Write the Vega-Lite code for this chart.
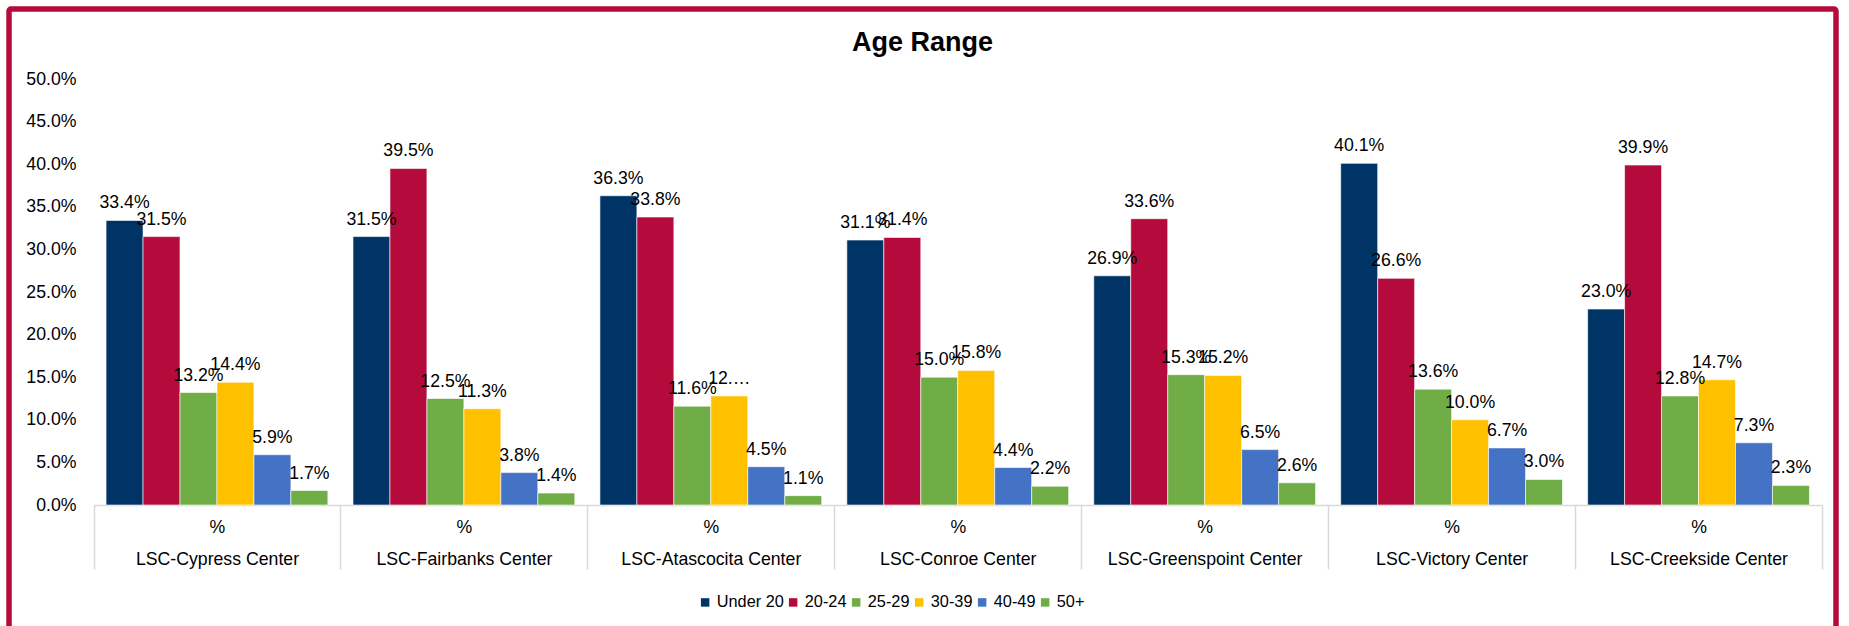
{
  "$schema": "https://vega.github.io/schema/vega-lite/v6.json",
  "autosize": {"type": "none"},
  "width": 1827,
  "height": 622,
  "padding": {"left": 9, "top": 9, "right": 13, "bottom": -5},
  "background": "white",
  "config": {
    "font": "Liberation Sans",
    "view": {"stroke": "#B40A3C", "strokeWidth": 5.5, "cornerRadius": 2, "fill": "white"}
  },
  "title": {
    "text": "Age Range",
    "font": "Liberation Sans",
    "fontSize": 27,
    "fontWeight": "bold",
    "color": "#000000",
    "anchor": "middle",
    "frame": "group",
    "baseline": "middle",
    "offset": -61
  },
  "data": {
    "values": [
      {"center": "LSC-Cypress Center", "age": "Under 20", "pct": 0.334, "label": "33.4%"},
      {"center": "LSC-Cypress Center", "age": "20-24", "pct": 0.315, "label": "31.5%"},
      {"center": "LSC-Cypress Center", "age": "25-29", "pct": 0.132, "label": "13.2%"},
      {"center": "LSC-Cypress Center", "age": "30-39", "pct": 0.144, "label": "14.4%"},
      {"center": "LSC-Cypress Center", "age": "40-49", "pct": 0.059, "label": "5.9%"},
      {"center": "LSC-Cypress Center", "age": "50+", "pct": 0.017, "label": "1.7%"},
      {"center": "LSC-Fairbanks Center", "age": "Under 20", "pct": 0.315, "label": "31.5%"},
      {"center": "LSC-Fairbanks Center", "age": "20-24", "pct": 0.395, "label": "39.5%"},
      {"center": "LSC-Fairbanks Center", "age": "25-29", "pct": 0.125, "label": "12.5%"},
      {"center": "LSC-Fairbanks Center", "age": "30-39", "pct": 0.113, "label": "11.3%"},
      {"center": "LSC-Fairbanks Center", "age": "40-49", "pct": 0.038, "label": "3.8%"},
      {"center": "LSC-Fairbanks Center", "age": "50+", "pct": 0.014, "label": "1.4%"},
      {"center": "LSC-Atascocita Center", "age": "Under 20", "pct": 0.363, "label": "36.3%"},
      {"center": "LSC-Atascocita Center", "age": "20-24", "pct": 0.338, "label": "33.8%"},
      {"center": "LSC-Atascocita Center", "age": "25-29", "pct": 0.116, "label": "11.6%"},
      {"center": "LSC-Atascocita Center", "age": "30-39", "pct": 0.128, "label": "12.…"},
      {"center": "LSC-Atascocita Center", "age": "40-49", "pct": 0.045, "label": "4.5%"},
      {"center": "LSC-Atascocita Center", "age": "50+", "pct": 0.011, "label": "1.1%"},
      {"center": "LSC-Conroe Center", "age": "Under 20", "pct": 0.311, "label": "31.1%"},
      {"center": "LSC-Conroe Center", "age": "20-24", "pct": 0.314, "label": "31.4%"},
      {"center": "LSC-Conroe Center", "age": "25-29", "pct": 0.150, "label": "15.0%"},
      {"center": "LSC-Conroe Center", "age": "30-39", "pct": 0.158, "label": "15.8%"},
      {"center": "LSC-Conroe Center", "age": "40-49", "pct": 0.044, "label": "4.4%"},
      {"center": "LSC-Conroe Center", "age": "50+", "pct": 0.022, "label": "2.2%"},
      {"center": "LSC-Greenspoint Center", "age": "Under 20", "pct": 0.269, "label": "26.9%"},
      {"center": "LSC-Greenspoint Center", "age": "20-24", "pct": 0.336, "label": "33.6%"},
      {"center": "LSC-Greenspoint Center", "age": "25-29", "pct": 0.153, "label": "15.3%"},
      {"center": "LSC-Greenspoint Center", "age": "30-39", "pct": 0.152, "label": "15.2%"},
      {"center": "LSC-Greenspoint Center", "age": "40-49", "pct": 0.065, "label": "6.5%"},
      {"center": "LSC-Greenspoint Center", "age": "50+", "pct": 0.026, "label": "2.6%"},
      {"center": "LSC-Victory Center", "age": "Under 20", "pct": 0.401, "label": "40.1%"},
      {"center": "LSC-Victory Center", "age": "20-24", "pct": 0.266, "label": "26.6%"},
      {"center": "LSC-Victory Center", "age": "25-29", "pct": 0.136, "label": "13.6%"},
      {"center": "LSC-Victory Center", "age": "30-39", "pct": 0.100, "label": "10.0%"},
      {"center": "LSC-Victory Center", "age": "40-49", "pct": 0.067, "label": "6.7%"},
      {"center": "LSC-Victory Center", "age": "50+", "pct": 0.030, "label": "3.0%"},
      {"center": "LSC-Creekside Center", "age": "Under 20", "pct": 0.230, "label": "23.0%"},
      {"center": "LSC-Creekside Center", "age": "20-24", "pct": 0.399, "label": "39.9%"},
      {"center": "LSC-Creekside Center", "age": "25-29", "pct": 0.128, "label": "12.8%"},
      {"center": "LSC-Creekside Center", "age": "30-39", "pct": 0.147, "label": "14.7%"},
      {"center": "LSC-Creekside Center", "age": "40-49", "pct": 0.073, "label": "7.3%"},
      {"center": "LSC-Creekside Center", "age": "50+", "pct": 0.023, "label": "2.3%"}
    ]
  },
  "encoding": {
    "x": {
      "field": "center",
      "type": "nominal",
      "sort": null,
      "scale": {"range": [84.5, 1813], "paddingInner": 0, "paddingOuter": 0},
      "axis": {
        "title": null,
        "orient": "bottom",
        "offset": -126,
        "domainColor": "#D9D9D9",
        "domainWidth": 1.5,
        "tickColor": "#D9D9D9",
        "tickWidth": 1.5,
        "tickSize": 64,
        "tickBand": "extent",
        "labelAngle": 0,
        "labelFont": "Liberation Sans",
        "labelFontSize": 17.7,
        "labelColor": "#000000",
        "labelExpr": "datum.value != null && datum.label ? ['%', datum.label] : ''",
        "labelLineHeight": 32.5,
        "labelBaseline": "top",
        "labelPadding": -51,
        "labelLimit": 400
      }
    },
    "xOffset": {
      "field": "age",
      "type": "nominal",
      "sort": ["Under 20", "20-24", "25-29", "30-39", "40-49", "50+"],
      "scale": {"paddingInner": 0, "paddingOuter": 0.34}
    },
    "y": {
      "field": "pct",
      "type": "quantitative",
      "scale": {"domain": [-0.147887, 0.58216], "nice": false, "zero": false},
      "axis": {
        "title": null,
        "values": [0, 0.05, 0.1, 0.15, 0.2, 0.25, 0.3, 0.35, 0.4, 0.45, 0.5],
        "format": ".1%",
        "domain": false,
        "ticks": false,
        "tickSize": 0,
        "grid": false,
        "labelFont": "Liberation Sans",
        "labelFontSize": 17.7,
        "labelColor": "#000000",
        "labelPadding": 0,
        "offset": -67
      }
    }
  },
  "layer": [
    {
      "mark": {"type": "bar", "stroke": "#ffffff", "strokeWidth": 1, "strokeOpacity": 0.6},
      "encoding": {
        "y2": {"datum": 0},
        "color": {
          "field": "age",
          "type": "nominal",
          "scale": {
            "domain": ["Under 20", "20-24", "25-29", "30-39", "40-49", "50+"],
            "range": ["#003366", "#B40A3C", "#70AD47", "#FFC000", "#4472C4", "#70AD47"]
          },
          "legend": {
            "orient": "none",
            "legendX": 688,
            "legendY": 585,
            "direction": "horizontal",
            "title": null,
            "symbolType": "square",
            "symbolSize": 72,
            "symbolStrokeWidth": 0,
            "labelFont": "Liberation Sans",
            "labelFontSize": 16.3,
            "labelColor": "#000000",
            "labelOffset": 3.5,
            "columnPadding": 1,
            "padding": 0
          }
        }
      }
    },
    {
      "mark": {"type": "text", "font": "Liberation Sans", "fontSize": 17.7, "baseline": "middle", "dy": -17, "color": "#000000"},
      "encoding": {"text": {"field": "label"}}
    }
  ]
}
